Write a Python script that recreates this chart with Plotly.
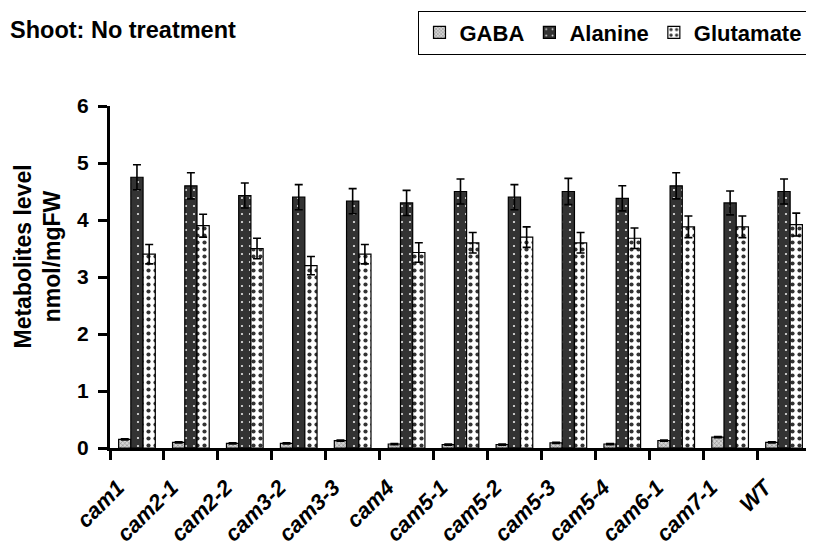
import plotly.graph_objects as go

categories = ["cam1", "cam2-1", "cam2-2", "cam3-2", "cam3-3", "cam4", "cam5-1",
              "cam5-2", "cam5-3", "cam5-4", "cam6-1", "cam7-1", "WT"]
gaba = [0.15, 0.10, 0.08, 0.08, 0.13, 0.07, 0.06, 0.06, 0.09, 0.07, 0.13, 0.19, 0.10]
gaba_err = [0.01, 0.01, 0.01, 0.01, 0.01, 0.01, 0.01, 0.01, 0.01, 0.01, 0.01, 0.01, 0.01]
alanine = [4.75, 4.60, 4.43, 4.40, 4.33, 4.30, 4.50, 4.40, 4.50, 4.38, 4.60, 4.30, 4.50]
alanine_err = [0.22, 0.23, 0.22, 0.22, 0.22, 0.22, 0.22, 0.22, 0.23, 0.22, 0.23, 0.21, 0.22]
glutamate = [3.40, 3.90, 3.50, 3.20, 3.40, 3.43, 3.60, 3.70, 3.60, 3.68, 3.88, 3.88, 3.92]
glutamate_err = [0.17, 0.20, 0.18, 0.16, 0.17, 0.17, 0.18, 0.18, 0.18, 0.18, 0.19, 0.19, 0.20]

tick_labels = ["<b><i>%s</i></b>" % c for c in categories]
y_ticks = [0, 1, 2, 3, 4, 5, 6]
FONT = "Arial, Liberation Sans, sans-serif"

fig = go.Figure()

def add(name, vals, errs, p):
    fig.add_trace(go.Bar(
        name="<b>%s</b>" % name, x=categories, y=vals,
        marker=dict(color=p["bg"], line=dict(color="black", width=1.2),
                    pattern=dict(shape=p["shape"], fgcolor=p["fg"], bgcolor=p["bg"],
                                 size=p["size"], solidity=p["sol"], fillmode="replace")),
        error_y=dict(type="data", array=errs, visible=True, color="black",
                     thickness=1.6, width=4),
    ))

add("GABA", gaba, gaba_err, dict(shape="x", fg="#7a7a7a", bg="#d4d4d4", size=3, sol=0.3))
add("Alanine", alanine, alanine_err, dict(shape=".", fg="#e6e6e6", bg="#333333", size=8, sol=0.06))
add("Glutamate", glutamate, glutamate_err, dict(shape=".", fg="#333333", bg="#ffffff", size=7, sol=0.28))

# figure is offset by the page's 8px body margin
fig.update_layout(
    width=806, height=542,
    margin=dict(l=101.5, r=3.3, t=98, b=102, autoexpand=False),
    paper_bgcolor="white", plot_bgcolor="white",
    barmode="group", bargap=0.32, bargroupgap=0,
    font=dict(family=FONT, color="black", size=22),
    showlegend=True,
    legend=dict(orientation="h", x=0.995, xanchor="right", y=1.279, yanchor="top",
                bordercolor="black", borderwidth=1, font=dict(size=22, family=FONT),
                itemwidth=30, tracegroupgap=0),
    annotations=[
        dict(text="<b>Shoot: No treatment</b>", xref="paper", yref="paper",
             x=-0.1448, y=1.222, xanchor="left", yanchor="middle",
             showarrow=False, font=dict(size=23.5, family=FONT)),
        dict(text="<b>Metabolites level<br>nmol/mgFW</b>", xref="paper", yref="paper",
             x=-0.1034, y=0.5585, xanchor="center", yanchor="middle", textangle=-90,
             showarrow=False, font=dict(size=23, family=FONT)),
    ],
)

fig.update_xaxes(
    type="category", tickmode="array", tickvals=categories, ticktext=tick_labels,
    tickangle=-45, tickson="boundaries", ticks="outside", ticklen=9, tickwidth=2.5,
    tickcolor="black", showline=True, linecolor="black", linewidth=3,
    tickfont=dict(size=22, family=FONT), showgrid=False, zeroline=False,
    ticklabelstandoff=15, ticklabelshift=-19, automargin=False,
)
fig.update_yaxes(
    range=[0, 6], tickvals=y_ticks, ticktext=["<b>%d</b>" % v for v in y_ticks],
    ticks="outside", ticklen=9, tickwidth=2.5, tickcolor="black",
    showline=True, linecolor="black", linewidth=3, showgrid=False, zeroline=False,
    tickfont=dict(size=21, family=FONT), ticklabelstandoff=5, automargin=False,
)

fig.write_html("out.html")
